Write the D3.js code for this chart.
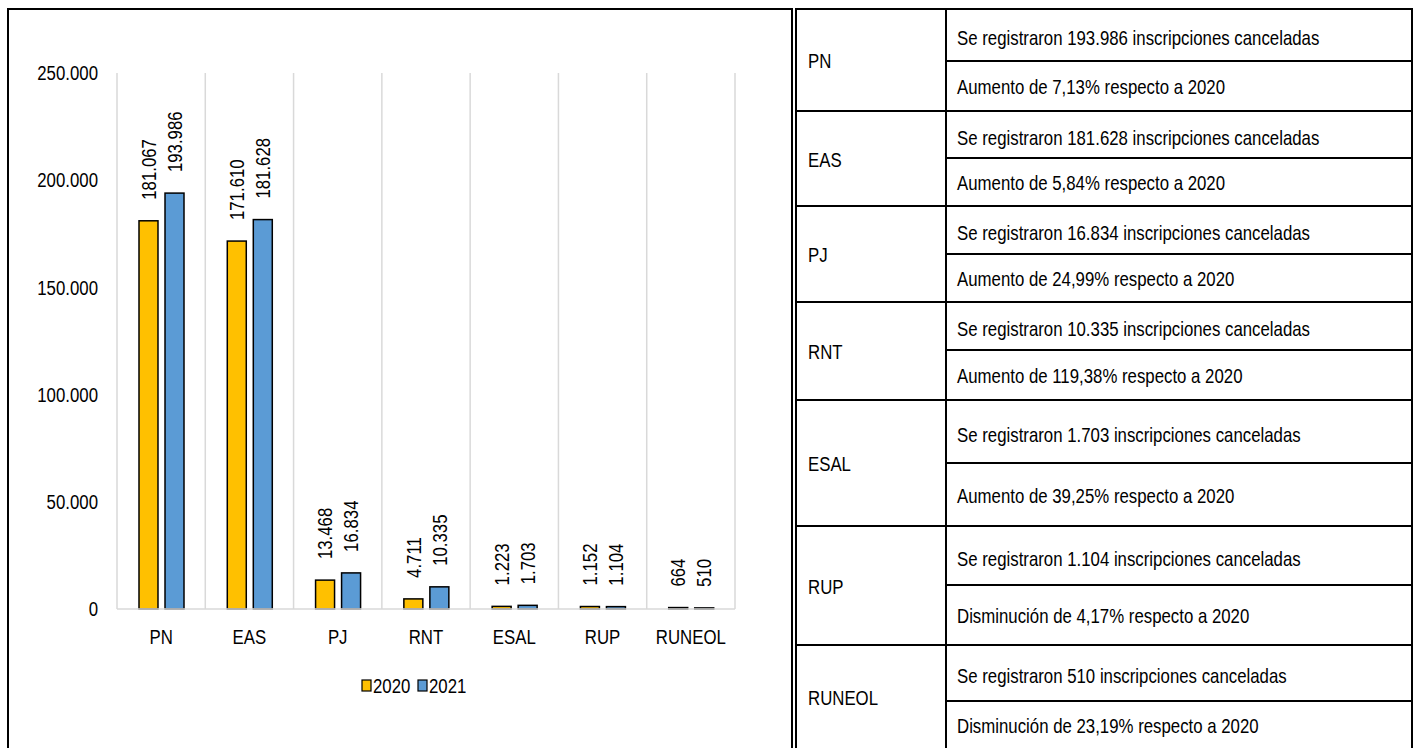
<!DOCTYPE html>
<html>
<head>
<meta charset="utf-8">
<script src="https://cdn.jsdelivr.net/npm/d3@7"></script>
<style>
  body { margin: 0; background: #fff; }
  svg { display: block; font-family: "Liberation Sans", Arial, sans-serif; }
</style>
</head>
<body>
<div id="chart"></div>
<script>
// data
const categories = ["PN", "EAS", "PJ", "RNT", "ESAL", "RUP", "RUNEOL"];
const years = ["2020", "2021"];
const values2020 = [181067, 171610, 13468, 4711, 1223, 1152, 664];
const values2021 = [193986, 181628, 16834, 10335, 1703, 1104, 510];
const yTicks = [0, 50000, 100000, 150000, 200000, 250000];
const rowTotals = [
  "Se registraron 193.986 inscripciones canceladas",
  "Se registraron 181.628 inscripciones canceladas",
  "Se registraron 16.834 inscripciones canceladas",
  "Se registraron 10.335 inscripciones canceladas",
  "Se registraron 1.703 inscripciones canceladas",
  "Se registraron 1.104 inscripciones canceladas",
  "Se registraron 510 inscripciones canceladas"
];
const rowChanges = [
  "Aumento de 7,13% respecto a 2020",
  "Aumento de 5,84% respecto a 2020",
  "Aumento de 24,99% respecto a 2020",
  "Aumento de 119,38% respecto a 2020",
  "Aumento de 39,25% respecto a 2020",
  "Disminución de 4,17% respecto a 2020",
  "Disminución de 23,19% respecto a 2020"
];

const colors = { "2020": "#FFC000", "2021": "#5B9BD5" };
const width = 1418, height = 748;

// original is set in a narrow face; squeeze Liberation Sans to get the same look
const fs = 20.5;
const sx = 0.82;
const place = (x, y, rot) => `translate(${x},${y})${rot ? ` rotate(${rot})` : ""} scale(${sx},1)`;

const locale = d3.formatLocale({ decimal: ",", thousands: ".", grouping: [3], currency: ["", ""] });
const fmt = locale.format(",d");

const svg = d3.select("#chart").append("svg")
  .attr("width", width)
  .attr("height", height);

// chart frame
svg.append("rect")
  .attr("x", 8).attr("y", 9)
  .attr("width", 784).attr("height", 745)
  .attr("fill", "none").attr("stroke", "#000").attr("stroke-width", 2);

const x0 = d3.scaleBand().domain(categories).range([117, 735]).padding(0);
const x1 = d3.scaleBand().domain(years).range([22, 67]).paddingInner(0.27);
const y = d3.scaleLinear().domain([0, 250000]).range([609, 73]);

// vertical gridlines at category boundaries
const bounds = categories.map(c => x0(c)).concat([x0.range()[1]]);
svg.append("g").selectAll("line").data(bounds).enter().append("line")
  .attr("x1", d => d).attr("x2", d => d)
  .attr("y1", y(250000)).attr("y2", y(0))
  .attr("stroke", "#d9d9d9").attr("stroke-width", 1.5);

// y axis labels
svg.append("g").selectAll("text").data(yTicks).enter().append("text")
  .attr("transform", d => place(98, y(d)))
  .attr("dy", "0.35em")
  .attr("text-anchor", "end")
  .attr("font-size", fs)
  .attr("fill", "#000")
  .text(d => fmt(d));

// bars
const rows = categories.map((c, i) => ({ cat: c, vals: [values2020[i], values2021[i]] }));
const groups = svg.append("g").selectAll("g").data(rows).enter().append("g")
  .attr("transform", d => `translate(${x0(d.cat)},0)`);

groups.selectAll("rect").data(d => d.vals.map((v, j) => ({ year: years[j], v }))).enter().append("rect")
  .attr("x", d => x1(d.year))
  .attr("y", d => y(d.v))
  .attr("width", x1.bandwidth())
  .attr("height", d => y(0) - y(d.v))
  .attr("fill", d => colors[d.year])
  .attr("stroke", "#000").attr("stroke-width", 1.5);

groups.selectAll("text").data(d => d.vals.map((v, j) => ({ year: years[j], v }))).enter().append("text")
  .attr("transform", d => place(x1(d.year) + x1.bandwidth() / 2, y(d.v) - 21, -90))
  .attr("dy", "0.35em")
  .attr("text-anchor", "start")
  .attr("font-size", fs)
  .attr("fill", "#000")
  .text(d => fmt(d.v));

// x baseline
svg.append("line")
  .attr("x1", 117).attr("x2", 735)
  .attr("y1", y(0)).attr("y2", y(0))
  .attr("stroke", "#d9d9d9").attr("stroke-width", 1.5);

// category labels
svg.append("g").selectAll("text").data(categories).enter().append("text")
  .attr("transform", d => place(x0(d) + x0.bandwidth() / 2, 637))
  .attr("dy", "0.35em")
  .attr("text-anchor", "middle")
  .attr("font-size", fs)
  .attr("fill", "#000")
  .text(d => d);

// legend
const legend = svg.append("g").selectAll("g").data(years).enter().append("g")
  .attr("transform", (d, i) => `translate(${362 + i * 56},686)`);
legend.append("rect")
  .attr("x", 0).attr("y", -6)
  .attr("width", 9).attr("height", 11)
  .attr("fill", d => colors[d])
  .attr("stroke", "#000").attr("stroke-width", 1.2);
legend.append("text")
  .attr("transform", place(11, 0))
  .attr("dy", "0.35em")
  .attr("font-size", fs)
  .attr("fill", "#000")
  .text(d => d);

// table
const tLeft = 796, tMid = 946, tRight = 1412;
const groupEdges = [9, 111, 206, 302, 400, 526, 645, 752];
const subEdges = [61, 158, 254, 350, 463, 585, 701];
const table = svg.append("g");

table.append("rect")
  .attr("x", tLeft).attr("y", 9)
  .attr("width", tRight - tLeft).attr("height", 745)
  .attr("fill", "none").attr("stroke", "#000").attr("stroke-width", 2);
table.append("line")
  .attr("x1", tMid).attr("x2", tMid).attr("y1", 9).attr("y2", 752)
  .attr("stroke", "#000").attr("stroke-width", 2);
table.selectAll(".gline").data(groupEdges.slice(1, -1)).enter().append("line")
  .attr("x1", tLeft).attr("x2", tRight)
  .attr("y1", d => d).attr("y2", d => d)
  .attr("stroke", "#000").attr("stroke-width", 2);
table.selectAll(".sline").data(subEdges).enter().append("line")
  .attr("x1", tMid).attr("x2", tRight)
  .attr("y1", d => d).attr("y2", d => d)
  .attr("stroke", "#000").attr("stroke-width", 2);

categories.forEach((c, i) => {
  const top = groupEdges[i], bot = Math.min(groupEdges[i + 1], 748), sub = subEdges[i];
  table.append("text")
    .attr("transform", place(808, (top + bot) / 2 + 1))
    .attr("dy", "0.35em").attr("font-size", fs).attr("fill", "#000")
    .text(c);
  table.append("text")
    .attr("transform", place(957, (top + sub) / 2 + 3))
    .attr("dy", "0.35em").attr("font-size", fs).attr("fill", "#000")
    .text(rowTotals[i]);
  table.append("text")
    .attr("transform", place(957, (sub + bot) / 2 + 1))
    .attr("dy", "0.35em").attr("font-size", fs).attr("fill", "#000")
    .text(rowChanges[i]);
});
</script>
</body>
</html>
